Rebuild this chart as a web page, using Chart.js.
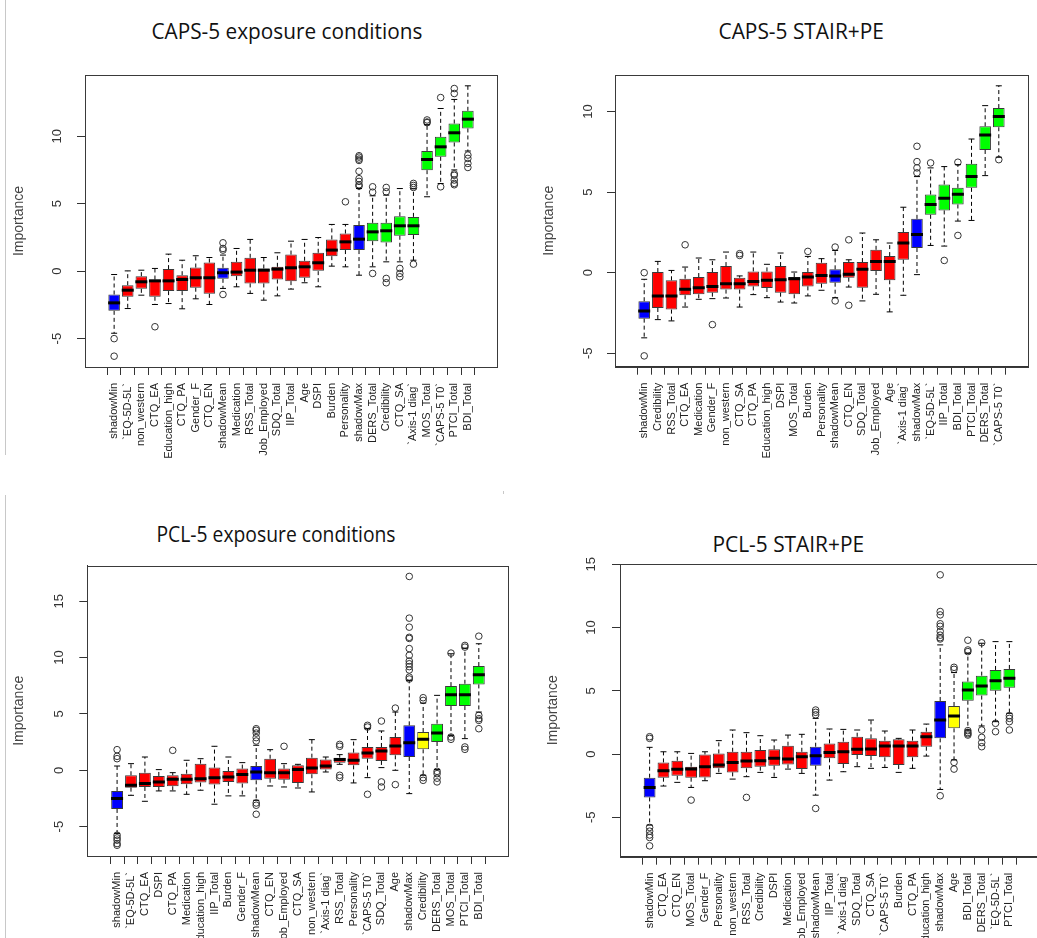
<!DOCTYPE html>
<html>
<head>
<meta charset="utf-8">
<script src="https://cdn.jsdelivr.net/npm/chart.js@4.4.1/dist/chart.umd.min.js"></script>
<style>
  html, body { margin:0; padding:0; width:1037px; height:938px; overflow:hidden; background:#fff; }
  .panel { position:absolute; }
  .ttl { position:absolute; font-family: "Open Sans", "Noto Sans", sans-serif; font-weight:400; font-size:21px; line-height:1; color:#111; white-space:nowrap; transform-origin: 50% 50%; }
  .vline { position:absolute; width:1px; background:#c8c8c8; }
</style>
</head>
<body>
<div class="vline" style="left:5px; top:0px; height:455px;"></div>
<div class="vline" style="left:5px; top:495px; height:443px;"></div>
<div class="vline" style="left:503px; top:491px; height:3px;"></div>

<div class="ttl" data-cx="287" data-base="40" data-w="271">CAPS-5 exposure conditions</div>
<div class="ttl" data-cx="801" data-base="40" data-w="165">CAPS-5 STAIR+PE</div>
<div class="ttl" data-cx="275.5" data-base="543" data-w="239">PCL-5 exposure conditions</div>
<div class="ttl" data-cx="788" data-base="553" data-w="152">PCL-5 STAIR+PE</div>

<div class="panel" style="left:0px; top:0px;"><canvas id="c1" width="530" height="460"></canvas></div>
<div class="panel" style="left:530px; top:0px;"><canvas id="c2" width="507" height="460"></canvas></div>
<div class="panel" style="left:0px; top:480px;"><canvas id="c3" width="530" height="458"></canvas></div>
<div class="panel" style="left:530px; top:480px;"><canvas id="c4" width="530" height="458"></canvas></div>

<script>
// ---------------- DATA ----------------
// Panel 1: CAPS-5 exposure conditions
const capsExpLabels = ['shadowMin','`EQ-5D-5L`','non_western','CTQ_EA','Education_high','CTQ_PA','Gender_F','CTQ_EN','shadowMean','Medication','RSS_Total','Job_Employed','SDQ_Total','IIP_Total','Age','DSPI','Burden','Personality','shadowMax','DERS_Total','Credibility','CTQ_SA','`Axis-1 diag`','MOS_Total','`CAPS-5 T0`','PTCI_Total','BDI_Total'];
const capsExpDecision = ['shadow','rejected','rejected','rejected','rejected','rejected','rejected','rejected','shadow','rejected','rejected','rejected','rejected','rejected','rejected','rejected','rejected','rejected','shadow','confirmed','confirmed','confirmed','confirmed','confirmed','confirmed','confirmed','confirmed'];
const capsExpLo  = [-4.6,-2.77,-1.78,-2.47,-2.40,-2.79,-2.05,-2.47,-1.28,-1.16,-1.65,-2.15,-1.83,-1.33,-0.86,-1.16,0.37,0.32,-0.30,0.32,0.69,0.69,0.81,5.51,6.49,7.5,8.9];
const capsExpQ1  = [-2.94,-1.90,-1.31,-1.90,-1.48,-1.48,-1.23,-1.68,-0.57,-0.37,-0.91,-0.91,-0.62,-0.74,-0.49,0.0,1.11,1.56,1.56,2.22,2.12,2.62,2.67,7.48,8.47,9.53,10.57];
const capsExpMed = [-2.35,-1.41,-0.79,-0.72,-0.72,-0.62,-0.49,-0.49,-0.12,-0.07,0.07,0.07,0.15,0.25,0.32,0.62,1.56,2.17,2.37,2.91,2.99,3.36,3.36,8.27,9.21,10.25,11.26];
const capsExpQ3  = [-1.73,-1.04,-0.37,-0.62,0.15,-0.30,0.27,0.64,0.25,0.69,0.99,0.20,0.32,1.23,0.77,1.36,2.35,2.79,3.41,3.58,3.58,4.07,4.02,8.91,9.95,10.94,11.88];
const capsExpHi  = [-0.25,0.02,0.07,0.20,1.26,0.81,1.14,1.01,1.19,1.68,2.35,1.01,1.36,2.22,2.35,2.49,3.46,3.46,6.12,5.58,5.63,6.12,6.10,10.85,12.05,12.72,13.73];
const capsExpOut = [[-5.0,-6.3],[],[],[-4.12],[],[],[],[],[2.1,1.68,1.56,-1.73],[],[],[],[],[],[],[],[],[5.14],[8.55,8.45,8.3,8.2,7.4,6.85,6.65,6.4,6.3],[6.25,5.85,-0.17],[6.2,5.88,-0.54,-0.86],[0.2,-0.17,-0.42],[6.5,6.35,6.2,0.52],[11.2,11.05,11.0],[12.86,6.25],[13.53,13.16,7.2,7.1,6.75,6.5,6.4],[8.6,8.35,7.98,7.68]];
const capsExpYTicks = [-5,0,5,10];

// Panel 2: CAPS-5 STAIR+PE
const capsStairLabels = ['shadowMin','Credibility','RSS_Total','CTQ_EA','Medication','Gender_F','non_western','CTQ_SA','CTQ_PA','Education_high','DSPI','MOS_Total','Burden','Personality','shadowMean','CTQ_EN','SDQ_Total','Job_Employed','Age','`Axis-1 diag`','shadowMax','`EQ-5D-5L`','IIP_Total','BDI_Total','PTCI_Total','DERS_Total','`CAPS-5 T0`'];
const capsStairDecision = ['shadow','rejected','rejected','rejected','rejected','rejected','rejected','rejected','rejected','rejected','rejected','rejected','rejected','rejected','shadow','rejected','rejected','rejected','rejected','rejected','shadow','confirmed','confirmed','confirmed','confirmed','confirmed','confirmed'];
const capsStairLo  = [-4.04,-2.91,-2.99,-2.13,-1.65,-1.61,-1.57,-2.13,-1.36,-1.55,-1.82,-1.88,-1.44,-1.09,-1.55,-0.89,-1.75,-1.34,-2.43,-1.40,-0.12,1.69,1.65,3.20,3.24,6.02,7.16];
const capsStairQ1  = [-2.85,-2.19,-2.29,-1.40,-1.34,-1.24,-1.05,-1.05,-0.85,-0.95,-1.24,-1.34,-0.85,-0.68,-0.62,-0.31,-0.93,0.10,-0.47,0.80,1.53,3.59,3.86,4.23,5.26,7.61,9.02];
const capsStairMed = [-2.37,-1.44,-1.44,-1.03,-0.93,-0.85,-0.68,-0.68,-0.54,-0.47,-0.43,-0.37,-0.27,-0.17,-0.21,-0.10,0.21,0.70,0.70,1.84,2.37,4.23,4.62,4.87,5.96,8.54,9.68];
const capsStairQ3  = [-1.77,0.04,-0.47,-0.37,-0.27,0.04,0.41,-0.31,0.08,0.08,0.41,-0.27,0.04,0.62,0.21,0.66,0.66,1.42,1.03,2.52,3.34,4.85,5.47,5.26,6.75,9.08,10.21];
const capsStairHi  = [-0.41,0.70,0.14,0.35,0.91,0.80,1.28,-0.20,1.28,0.52,1.22,0.04,1.01,0.87,1.38,0.80,2.46,2.04,1.84,4.06,5.96,6.50,6.58,6.70,8.29,10.36,11.59];
const capsStairOut = [[0.0,-5.16],[],[],[1.73],[],[-3.22],[],[1.18,1.07],[],[],[],[],[1.32],[],[1.59,-1.75],[2.04,-2.02],[],[],[],[],[7.84,6.89,6.50,6.19],[6.81],[0.76],[6.85,2.31],[],[],[7.01]];
const capsStairYTicks = [-5,0,5,10];

// Panel 3: PCL-5 exposure conditions
const pclExpLabels = ['shadowMin','`EQ-5D-5L`','CTQ_EA','DSPI','CTQ_PA','Medication','Education_high','IIP_Total','Burden','Gender_F','shadowMean','CTQ_EN','Job_Employed','CTQ_SA','non_western','`Axis-1 diag`','RSS_Total','Personality','`CAPS-5 T0`','SDQ_Total','Age','shadowMax','Credibility','DERS_Total','MOS_Total','PTCI_Total','BDI_Total'];
const pclExpDecision = ['shadow','rejected','rejected','rejected','rejected','rejected','rejected','rejected','rejected','rejected','shadow','rejected','rejected','rejected','rejected','rejected','rejected','rejected','rejected','rejected','rejected','shadow','tentative','confirmed','confirmed','confirmed','confirmed'];
const pclExpLo  = [-5.6,-2.22,-2.75,-1.83,-1.83,-2.13,-1.77,-3.01,-2.27,-2.27,-2.66,-1.39,-1.48,-1.57,-1.92,-0.15,0.53,-1.12,-0.65,0.24,0.0,-2.07,-0.44,0.06,3.10,2.81,5.17];
const pclExpQ1  = [-3.43,-1.54,-1.48,-1.48,-1.42,-1.24,-1.09,-1.27,-1.03,-1.18,-0.89,-0.74,-0.83,-1.12,-0.35,0.06,0.68,0.44,1.03,0.83,1.33,1.18,1.86,2.51,5.70,5.70,7.62];
const pclExpMed = [-2.51,-1.33,-1.18,-1.03,-0.80,-0.80,-0.74,-0.65,-0.59,-0.38,-0.15,-0.21,-0.21,0.06,0.21,0.38,0.95,0.89,1.54,1.71,2.16,2.45,2.75,3.31,6.71,6.71,8.48];
const pclExpQ3  = [-1.83,-0.44,-0.21,-0.50,-0.44,-0.30,0.59,0.24,-0.06,0.15,0.38,1.03,0.15,0.44,1.12,0.95,1.12,1.57,2.07,2.07,2.95,3.99,3.40,4.14,7.47,7.68,9.25];
const pclExpHi  = [0.38,0.59,1.18,0.06,-0.21,0.89,1.03,2.13,1.18,0.68,2.22,1.83,0.59,0.53,2.72,1.18,1.39,2.72,3.69,3.49,5.17,7.98,5.97,6.65,10.34,10.84,11.23];
const pclExpOut = [[1.83,1.24,1.03,-5.76,-6.0,-6.2,-6.5,-6.65],[],[],[],[1.77],[],[],[],[],[],[3.69,3.55,3.3,2.9,2.6,-2.9,-3.1,-3.9],[],[2.13],[],[],[],[2.3,2.13,-0.44,-0.65],[],[3.99,3.84,-2.13],[4.37,-1.03,-1.48],[5.52,-1.27],[17.2,13.5,12.7,11.8,11.7,10.8,10.2,9.7,9.45,9.2,8.9,8.27,8.1],[6.44,6.2,-0.65,-0.89],[-0.09,-0.3,-0.7,-1.03],[10.4,2.95,2.75],[11.08,10.93,2.07,1.86],[11.9,4.87,4.58,4.43,3.69]];
const pclExpYTicks = [-5,0,5,10,15];

// Panel 4: PCL-5 STAIR+PE
const pclStairLabels = ['shadowMin','CTQ_EA','CTQ_EN','MOS_Total','Gender_F','Personality','non_western','RSS_Total','Credibility','DSPI','Medication','Job_Employed','shadowMean','IIP_Total','`Axis-1 diag`','SDQ_Total','CTQ_SA','`CAPS-5 T0`','Burden','CTQ_PA','Education_high','shadowMax','Age','BDI_Total','DERS_Total','`EQ-5D-5L`','PTCI_Total'];
const pclStairDecision = ['shadow','rejected','rejected','rejected','rejected','rejected','rejected','rejected','rejected','rejected','rejected','rejected','shadow','rejected','rejected','rejected','rejected','rejected','rejected','rejected','rejected','shadow','tentative','confirmed','confirmed','confirmed','confirmed'];
const pclStairLo  = [-5.62,-2.53,-2.24,-2.64,-2.11,-1.53,-1.98,-1.79,-1.45,-1.85,-1.19,-1.53,-3.25,-2.06,-1.40,-1.00,-1.13,-1.06,-1.45,-1.13,-0.16,-2.8,-0.47,1.90,2.22,2.56,3.22];
const pclStairQ1  = [-3.43,-1.87,-1.72,-1.87,-1.85,-1.13,-1.45,-1.13,-1.00,-0.92,-0.82,-1.19,-0.92,-0.34,-0.79,-0.08,-0.16,-0.26,-0.87,-0.26,0.58,1.24,2.03,4.22,4.62,5.01,5.25];
const pclStairMed = [-2.64,-1.32,-1.21,-1.19,-1.00,-0.87,-0.66,-0.55,-0.53,-0.34,-0.40,-0.21,-0.13,0.13,0.18,0.37,0.40,0.63,0.63,0.63,1.37,2.69,3.01,5.07,5.38,5.80,5.99];
const pclStairQ3  = [-1.87,-0.66,-0.53,-1.00,-0.03,0.05,0.18,0.18,0.32,0.37,0.66,0.18,0.58,0.84,0.98,1.37,1.24,1.06,1.16,1.06,1.77,4.20,3.80,5.73,6.20,6.65,6.73];
const pclStairHi  = [0.53,0.18,0.18,0.05,0.18,1.06,1.90,1.69,1.45,1.11,1.50,1.56,2.82,1.98,1.95,1.90,2.69,1.82,1.24,1.90,2.37,8.63,6.44,7.97,8.76,8.89,8.89];
const pclStairOut = [[1.37,1.24,-5.8,-6.1,-6.4,-6.6,-7.26],[],[],[-3.64],[],[],[],[-3.43],[],[],[],[],[3.48,3.3,3.1,-4.30],[],[],[],[],[],[],[],[],[14.17,11.27,11.0,10.3,10.1,9.7,9.4,9.2,9.1,-3.30],[6.86,6.70,-0.66,-1.19],[9.0,8.23,8.1,1.85,1.7,1.6,1.5],[8.8,1.9,1.32,0.90,0.58],[2.43,1.77],[3.03,2.82,2.56,1.90]];
const pclStairYTicks = [-5,0,5,10,15];

// ---------------- STYLE / LAYOUT ----------------
const decisionColor = { shadow:'#0000FF', rejected:'#FF0000', tentative:'#FFFF00', confirmed:'#00FF00' };
const FONT = "'Liberation Sans', Arial, sans-serif";

const framePlugin = {
  id: 'frame',
  afterDatasetsDraw(chart) {
    const a = chart.chartArea, ctx = chart.ctx;
    ctx.save();
    ctx.strokeStyle = '#3a3a3a';
    ctx.lineWidth = 1;
    ctx.strokeRect(Math.round(a.left) + 0.5, Math.round(a.top) + 0.5, Math.round(a.right - a.left), Math.round(a.bottom - a.top));
    ctx.restore();
  }
};

function buildPanel(canvasId, d, g) {
  const n = d.labels.length;
  const xs = d.labels.map((_, i) => i + 1);
  const boxes = xs.map((x, i) => ({ x, y: [d.q1[i], d.q3[i]] }));
  const medians = xs.map((x, i) => ({ x, y: d.med[i] }));
  const staples = [];
  const whiskers = [];
  xs.forEach((x, i) => {
    staples.push({ x, y: d.lo[i] }, { x, y: d.hi[i] });
    whiskers.push({ x, y: d.q3[i] }, { x, y: d.hi[i] }, { x, y: null },
                  { x, y: d.q1[i] }, { x, y: d.lo[i] }, { x, y: null });
  });
  const outs = [];
  d.out.forEach((arr, i) => arr.forEach(v => outs.push({ x: i + 1, y: v })));
  const allVals = d.lo.concat(d.hi, outs.map(p => p.y));
  const vmin = Math.min(...allVals), vmax = Math.max(...allVals);
  const ext = (vmax - vmin) * 0.04;
  const colors = d.decision.map(k => decisionColor[k]);

  return new Chart(document.getElementById(canvasId), {
    type: 'bar',
    data: {
      datasets: [
        { type: 'scatter', data: medians, pointStyle: 'line', pointRadius: 6, pointHoverRadius: 6,
          borderColor: '#000', borderWidth: 3, backgroundColor: '#000' },
        { type: 'scatter', data: staples, pointStyle: 'line', pointRadius: 3, pointHoverRadius: 3,
          borderColor: '#000', borderWidth: 1 },
        { type: 'scatter', data: outs, pointStyle: 'circle', pointRadius: 3.3, pointHoverRadius: 3.3,
          borderColor: '#333', borderWidth: 1, backgroundColor: 'rgba(0,0,0,0)' },
        { type: 'line', data: whiskers, borderColor: '#000', borderWidth: 1, borderDash: [4, 3],
          pointRadius: 0, pointHoverRadius: 0, spanGaps: false, fill: false, tension: 0 },
        { type: 'bar', data: boxes, backgroundColor: colors, borderColor: '#3a3a3a', borderWidth: 1,
          borderSkipped: false, barPercentage: 0.85, categoryPercentage: 1, grouped: false }
      ]
    },
    options: {
      responsive: false, animation: false, devicePixelRatio: 1,
      layout: { padding: { top: g.padTop, right: g.padRight, left: 0, bottom: 0 } },
      plugins: { legend: { display: false }, tooltip: { enabled: false } },
      events: [],
      scales: {
        x: {
          type: 'linear',
          min: 0.5 - 0.04 * n, max: n + 0.5 + 0.04 * n,
          afterBuildTicks: s => { s.ticks = xs.map(v => ({ value: v })); },
          afterFit: s => { s.height = g.xh; },
          grid: { display: true, drawOnChartArea: false, drawTicks: true, tickLength: 8, color: '#333', tickColor: '#333' },
          border: { display: true, color: '#333' },
          ticks: { autoSkip: false, minRotation: 90, maxRotation: 90, padding: 8,
                   font: { family: FONT, size: 11 }, color: '#222',
                   callback: (v, i) => d.labels[i] }
        },
        y: {
          type: 'linear',
          min: vmin - ext, max: vmax + ext,
          afterBuildTicks: s => { s.ticks = d.yTicks.map(v => ({ value: v })); },
          afterFit: s => { s.width = g.yw; },
          grid: { display: true, drawOnChartArea: false, drawTicks: true, tickLength: 8, color: '#333', tickColor: '#333' },
          border: { display: true, color: '#333' },
          ticks: { autoSkip: false, minRotation: 90, maxRotation: 90, crossAlign: 'center', padding: g.tickPad,
                   font: { family: FONT, size: 13 }, color: '#333',
                   callback: v => String(v) },
          title: { display: true, text: 'Importance', color: '#444',
                   font: { family: FONT, size: 14 }, padding: { top: g.titlePad, bottom: 0 } }
        }
      }
    },
    plugins: [framePlugin]
  });
}

buildPanel('c1', { labels: capsExpLabels, decision: capsExpDecision, lo: capsExpLo, q1: capsExpQ1, med: capsExpMed, q3: capsExpQ3, hi: capsExpHi, out: capsExpOut, yTicks: capsExpYTicks },
  { padTop: 75, padRight: 33, yw: 85, xh: 93, tickPad: 12, titlePad: 10.6 });
buildPanel('c2', { labels: capsStairLabels, decision: capsStairDecision, lo: capsStairLo, q1: capsStairQ1, med: capsStairMed, q3: capsStairQ3, hi: capsStairHi, out: capsStairOut, yTicks: capsStairYTicks },
  { padTop: 75, padRight: 8.7, yw: 85, xh: 93.3, tickPad: 11.5, titlePad: 10.6 });
buildPanel('c3', { labels: pclExpLabels, decision: pclExpDecision, lo: pclExpLo, q1: pclExpQ1, med: pclExpMed, q3: pclExpQ3, hi: pclExpHi, out: pclExpOut, yTicks: pclExpYTicks },
  { padTop: 85.7, padRight: 21.4, yw: 87.3, xh: 82, tickPad: 12.8, titlePad: 10.6 });
buildPanel('c4', { labels: pclStairLabels, decision: pclStairDecision, lo: pclStairLo, q1: pclStairQ1, med: pclStairMed, q3: pclStairQ3, hi: pclStairHi, out: pclStairOut, yTicks: pclStairYTicks },
  { padTop: 84, padRight: 21, yw: 90, xh: 81.3, tickPad: 13, titlePad: 14.6 });

// place titles: centre x, baseline y, target width
document.querySelectorAll('.ttl').forEach(el => {
  const cx = +el.dataset.cx, base = +el.dataset.base, tw = +el.dataset.w;
  const w = el.offsetWidth;
  const fs = 21;
  el.style.left = (cx - w / 2) + 'px';
  el.style.top = (base - 0.888 * fs) + 'px';
  el.style.transform = 'scaleX(' + (tw / w).toFixed(4) + ')';
});
</script>
</body>
</html>
